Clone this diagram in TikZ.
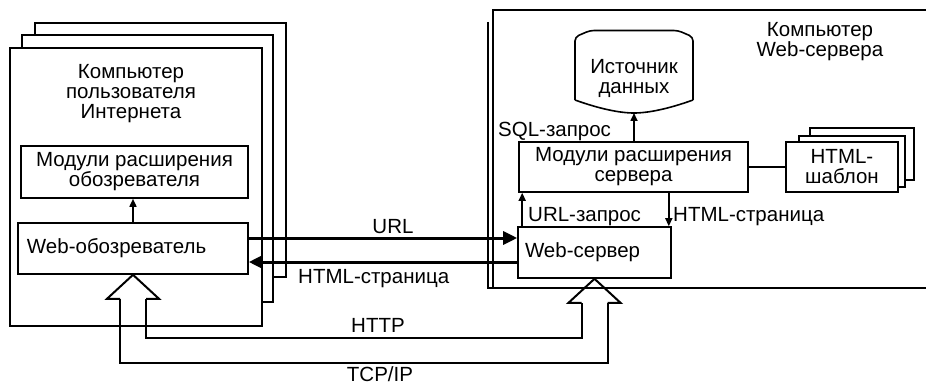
\documentclass[tikz,border=0pt]{standalone}
\usepackage{fontspec}
\setmainfont{Liberation Sans}
\usetikzlibrary{arrows.meta,calc}
\begin{document}
\begin{tikzpicture}[x=1pt,y=-1pt,
  frame/.style={draw, fill=white, line width=1.6pt, inner sep=0pt},
  box/.style={draw, fill=white, line width=1.6pt, inner sep=0pt, align=center},
  lbox/.style={draw, fill=white, line width=1.6pt, inner ysep=0pt, align=left},
  lbl/.style={inner sep=0pt, align=center},
  thin/.style={line width=1.6pt},
  small/.style={line width=1.6pt, -{Triangle[length=8pt,width=7pt]}},
  big/.style={line width=3pt, -{Triangle[length=14pt,width=13pt]}},
  proto/.style={line width=2pt, line join=miter},
  font=\fontsize{20.5}{20}\selectfont]
\useasboundingbox (0,0) rectangle (926,385);

% user computer stack
\node[frame, minimum width=251pt, minimum height=254pt] (uback) at (160.5,150) {};
\node[frame, minimum width=251pt, minimum height=267pt] (umid) at (147.5,168.5) {};
\node[frame, minimum width=252pt, minimum height=278pt] (ufront) at (136,187) {};
\node[lbl] (ulabel) at (131,94) {Компьютер\\пользователя\\Интернета};
\node[box, minimum width=227pt, minimum height=52pt] (umods) at (134.5,172) {Модули расширения\\обозревателя};
\node[lbox, text width=212pt, inner xsep=9pt, minimum height=51pt] (brw) at (133,248.5) {Web-обозреватель};
\draw[small] (brw.north) -- (brw.north |- umods.south);

% server computer frame
\draw[thin] (926,10) -- (493,10) -- (493,288);
\draw[thin] (488,22) -- (488,288) -- (926,288);
\node[lbl] (slabel) at (820,42) {Компьютер\\Web-сервера};

% data source
\draw[thin, fill=white, rounded corners=4pt] (575,100) -- (575,37) -- (590,30.5) -- (678,30.5) -- (693,37) -- (693,100);
\draw[thin] (575,100) .. controls (600,109) and (620,113) .. (634,113) .. controls (648,113) and (668,109) .. (693,100);
\node[lbl] (db) at (634,78) {Источник\\данных};
\coordinate (dbbot) at (634,113);

% server modules
\node[box, minimum width=229pt, minimum height=50pt] (smod) at (633.5,167) {Модули расширения\\сервера};
\draw[small] (smod.north -| dbbot) -- (dbbot);
\node[lbl, anchor=base west] at (498,137) {SQL-запрос};

% HTML template stack
\node[frame, minimum width=104pt, minimum height=52pt] (tback) at (862,154) {};
\node[frame, minimum width=106pt, minimum height=51pt] (tmid) at (852,161.5) {};
\node[box, minimum width=112pt, minimum height=50pt] (tfront) at (842,167) {HTML-\\шаблон};
\draw[thin] (smod.east) -- (tfront.west);

% web server
\node[lbox, text width=139pt, inner xsep=7pt, minimum height=51pt] (wsrv) at (594.5,252.5) {Web-сервер};
\draw[small] ([xshift=5pt]wsrv.north west) -- ([xshift=5pt]wsrv.north west |- smod.south);
\draw[small] ([xshift=-3pt]wsrv.north east |- smod.south) -- ([xshift=-3pt]wsrv.north east);
\node[lbl, anchor=base west] at (528,221) {URL-запрос};
\node[lbl, anchor=base west] at (673,221) {HTML-страница};

% request / response
\draw[big] ([yshift=10.5pt]brw.east) -- ([yshift=10.5pt]brw.east -| wsrv.west);
\node[lbl, anchor=base] at (393,233) {URL};
\draw[big] ([yshift=-9.5pt]wsrv.west) -- ([yshift=-9.5pt]wsrv.west -| brw.east);
\node[lbl, anchor=base west] at (298,283) {HTML-страница};

% protocol arrows
\coordinate (bt) at (brw.south);
\coordinate (st) at (wsrv.south);
\draw[proto] ($(bt)+(13,24)$) -- ($(bt)+(26,24)$) -- (bt) -- ($(bt)+(-26,24)$) -- ($(bt)+(-13,24)$);
\draw[proto] ($(st)+(13,24)$) -- ($(st)+(26,24)$) -- (st) -- ($(st)+(-26,24)$) -- ($(st)+(-13,24)$);
\draw[proto] ($(bt)+(13,24)$) -- ($(bt)+(13,63)$) -| ($(st)+(-13,24)$);
\draw[proto] ($(bt)+(-13,24)$) -- ($(bt)+(-13,88)$) -| ($(st)+(13,24)$);
\node[lbl, anchor=base] at (378,332) {HTTP};
\node[lbl, anchor=base] at (380,381) {TCP/IP};
\end{tikzpicture}
\end{document}
